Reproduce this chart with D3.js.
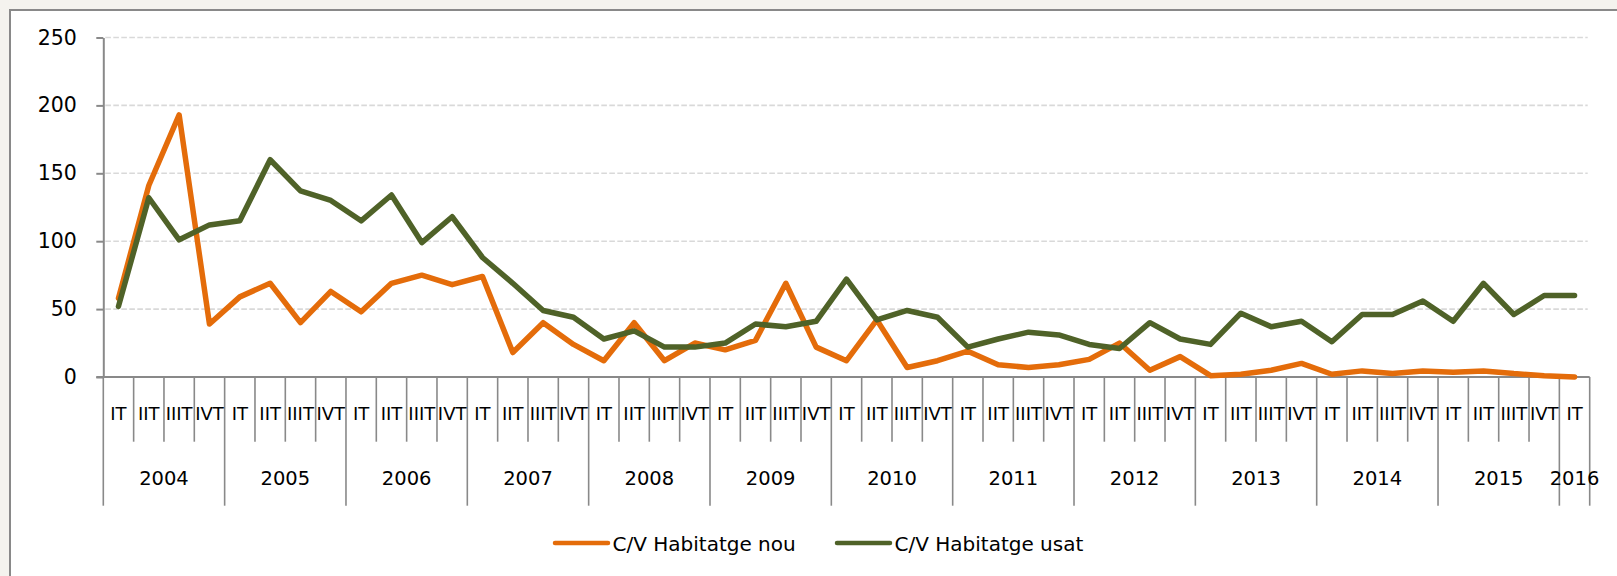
<!DOCTYPE html>
<html>
<head>
<meta charset="utf-8">
<script src="https://cdn.jsdelivr.net/npm/d3@7"></script>
<style>
  html, body { margin: 0; padding: 0; background: #f4f3ee; }
  svg { display: block; }
  text { font-family: "DejaVu Sans", sans-serif; fill: #000; }
</style>
</head>
<body>
<svg id="chart" width="1617" height="576"></svg>
<script>
// ---------- DATA ----------
const years = ["2004","2005","2006","2007","2008","2009","2010","2011","2012","2013","2014","2015","2016"];
const quarterLabels = ["IT","IIT","IIIT","IVT"];
// quarters per year (2016 only first quarter)
const quartersPerYear = [4,4,4,4,4,4,4,4,4,4,4,4,1];

const seriesNames = ["C/V Habitatge nou", "C/V Habitatge usat"];
const habitatgeNou = [58,141,193,39, 59,69,40,63, 48,69,75,68, 74,18,40,24,
  12,40,12,25, 20,27,69,22, 12,42,7,12, 19,9,7,9, 13,25,5,15, 1,2,5,10,
  2,4.5,2.5,4.5, 3.5,4.5,2.5,1, 0];
const habitatgeUsat = [52,132,101,112, 115,160,137,130, 115,134,99,118, 88,69,49,44,
  28,34,22,22, 25,39,37,41, 72,42,49,44, 22,28,33,31, 24,21,40,28, 24,47,37,41,
  26,46,46,56, 41,69,46,60, 60];
const yTicks = [0,50,100,150,200,250];
const seriesColors = ["#e46c0a", "#4f6228"];

// ---------- CATEGORIES ----------
const categories = [];
years.forEach((yr, yi) => {
  for (let q = 0; q < quartersPerYear[yi]; q++) {
    categories.push({ key: yr + "-" + quarterLabels[q], year: yr, quarter: quarterLabels[q], yi });
  }
});

// ---------- LAYOUT ----------
const svg = d3.select("#chart");
const W = 1617, H = 576;
const plotLeft = 103.3, plotRight = 1589.7, plotTop = 37.5, plotBottom = 377;
const axisColor = "#898989";

// frame
svg.append("rect").attr("x", 10).attr("y", 11).attr("width", W).attr("height", H).attr("fill", "#fff");
svg.append("line").attr("x1", 9).attr("x2", W).attr("y1", 10).attr("y2", 10)
  .attr("stroke", axisColor).attr("stroke-width", 2);
svg.append("line").attr("x1", 10).attr("x2", 10).attr("y1", 10).attr("y2", H)
  .attr("stroke", axisColor).attr("stroke-width", 2);

const x = d3.scaleBand().domain(categories.map(d => d.key)).range([plotLeft, plotRight]).padding(0);
const y = d3.scaleLinear().domain([0, 250]).range([plotBottom, plotTop]);
const cx = k => x(k) + x.bandwidth() / 2;

// gridlines
svg.append("g").selectAll("line").data(yTicks.filter(t => t > 0)).join("line")
  .attr("x1", plotLeft + 2).attr("x2", plotRight - 2)
  .attr("y1", d => y(d)).attr("y2", d => y(d))
  .attr("stroke", "#d9d9d9").attr("stroke-width", 1.6).attr("stroke-dasharray", "5.6,2.4");

// y axis
const yAxis = d3.axisLeft(y).tickValues(yTicks).tickSize(7).tickSizeOuter(0).tickPadding(19.5);
const gy = svg.append("g").attr("transform", `translate(${plotLeft},0)`).call(yAxis);
gy.select(".domain").attr("stroke", axisColor).attr("stroke-width", 2);
gy.selectAll(".tick line").attr("stroke", axisColor).attr("stroke-width", 2);
gy.selectAll(".tick text").style("font-family", '"DejaVu Sans", sans-serif').style("font-size", "20.5px").attr("fill", "#000");

// x axis (two-level category axis)
const gx = svg.append("g");
const boundaries = categories.map((d, i) => ({ pos: x(d.key), isYear: i === 0 || d.quarter === "IT" }));
boundaries.push({ pos: x(categories[categories.length - 1].key) + x.bandwidth(), isYear: true });
gx.selectAll("line.b").data(boundaries).join("line").attr("class", "b")
  .attr("x1", d => d.pos).attr("x2", d => d.pos)
  .attr("y1", plotBottom).attr("y2", d => d.isYear ? 505.7 : 441.7)
  .attr("stroke", axisColor).attr("stroke-width", 1.6);
gx.append("line").attr("x1", plotLeft - 7).attr("x2", plotRight).attr("y1", plotBottom).attr("y2", plotBottom)
  .attr("stroke", axisColor).attr("stroke-width", 2);

gx.selectAll("text.q").data(categories).join("text").attr("class", "q")
  .attr("x", d => cx(d.key)).attr("y", 420)
  .attr("text-anchor", "middle").style("font-size", "18px")
  .text(d => d.quarter);

const yearGroups = years.map((yr, yi) => {
  const cats = categories.filter(c => c.yi === yi);
  const x0 = x(cats[0].key), x1 = x(cats[cats.length - 1].key) + x.bandwidth();
  return { yr, mid: (x0 + x1) / 2 };
});
gx.selectAll("text.y").data(yearGroups).join("text").attr("class", "y")
  .attr("x", d => d.mid).attr("y", 484.5)
  .attr("text-anchor", "middle").style("font-size", "19.5px")
  .text(d => d.yr);

// lines
const seriesData = [habitatgeNou, habitatgeUsat];
const lineGen = d3.line().x((v, i) => cx(categories[i].key)).y(v => y(v));
svg.append("g").selectAll("path").data(seriesData).join("path")
  .attr("d", d => lineGen(d))
  .attr("fill", "none")
  .attr("stroke", (d, i) => seriesColors[i])
  .attr("stroke-width", 5.5)
  .attr("stroke-linejoin", "round")
  .attr("stroke-linecap", "round");

// legend
const legendItems = [
  { name: seriesNames[0], color: seriesColors[0], x: 555 },
  { name: seriesNames[1], color: seriesColors[1], x: 837 }
];
const lg = svg.append("g").selectAll("g").data(legendItems).join("g")
  .attr("transform", d => `translate(${d.x},543)`);
lg.append("line").attr("x1", 0).attr("x2", 53).attr("y1", 0).attr("y2", 0)
  .attr("stroke", d => d.color).attr("stroke-width", 4.5).attr("stroke-linecap", "round");
lg.append("text").attr("x", 57.5).attr("y", 7.5).style("font-size", "20px").text(d => d.name);
</script>
</body>
</html>
